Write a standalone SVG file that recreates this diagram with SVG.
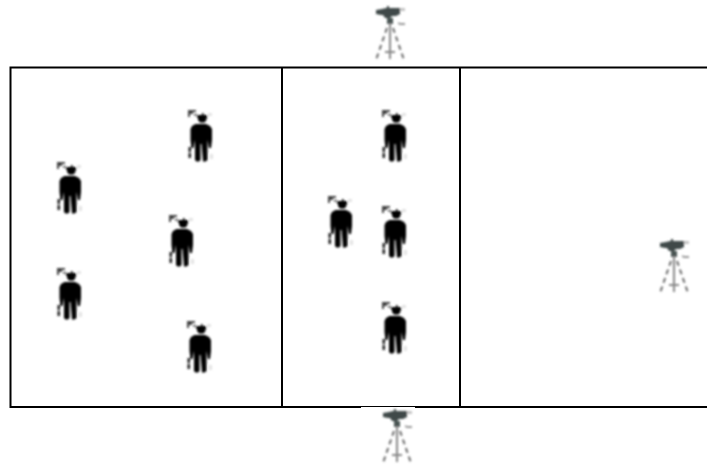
<svg xmlns="http://www.w3.org/2000/svg" width="707" height="468" viewBox="0 0 707 468">
<style>
.wall{stroke:#000;stroke-width:2;fill:none}
.thin{stroke:#000;stroke-width:1.200;fill:none}
.leg{stroke:#666;stroke-width:2;fill:none;stroke-dasharray:5 4}
.mast{stroke:#888;stroke-width:2;fill:none}
</style>
<defs>
<filter id="soft" x="-20%" y="-20%" width="140%" height="140%"><feGaussianBlur stdDeviation="0.8"/></filter>
<g id="person">
<rect x="0" y="0" width="25" height="53" fill="#fff"/>
<g filter="url(#soft)">
<path d="M0 0h8v2H5v2H2v3H0zM6 4h3v1.500H6z" fill="#444"/>
<path d="M14 3h1.500v2h3l1.500 1.500-1.500 1.500v2l-2 2.500h-4.500L10 10V8L8.500 6.500 10 5h4z" fill="#000"/>
<path d="M7.500 14h10.500l4 2 2 3v11l-1 8h-2l-1.500-8V50l-2 1.500h-2.500L13.500 34h-1v16l-1.500 1.500H8.500L7 50V30l-1.500 8H3.500l-1-8V19l1.500-3z" fill="#000"/>
<path d="M0.500 37h2.500v5H0.500zM0.500 43h2.500v5H0.500z" fill="#222"/>
<path d="M20 3h4v3h-4zM22 44h3v5h-3z" fill="#e4e4e4"/>
</g>
</g>
<g id="camera" filter="url(#soft)">
<path d="M2 4l6-1 4-1h1V0h2v2l8 0h3v6l-4 2h-4l-2 2h-5l-2-3H7l-5-1z" fill="#3f4a48"/>
<path d="M26 2h5v3h-5z" fill="#c4c4c4"/>
<path d="M13 12h6v6h-6z" fill="#4a5553"/>
<path d="M24 16l2 1h5v2h-5l-2-1z" fill="#999"/>
<path class="mast" d="M16 17V53"/>
<path class="mast" d="M11 46H21"/>
<path class="leg" d="M13 22L2 54"/>
<path class="leg" d="M19 22L30 54"/>
</g>
</defs>
<rect width="707" height="468" fill="#fff"/>
<g id="connectors">
<path class="wall" d="M707 67.500H10.500V407H361M415 407H707"/>
<path class="thin" d="M361 406.500H415"/>
<path class="wall" d="M282 68V407M460 68V407"/>
</g>
<g id="camera-top"><use href="#camera" x="374" y="6"/></g>
<g id="camera-right"><use href="#camera" x="658" y="239"/></g>
<g id="camera-bottom"><use href="#camera" x="381" y="409"/></g>
<g id="person-1"><use href="#person" x="57" y="162"/></g>
<g id="person-2"><use href="#person" x="57" y="268"/></g>
<g id="person-3"><use href="#person" x="188" y="110"/></g>
<g id="person-4"><use href="#person" x="169" y="215"/></g>
<g id="person-5"><use href="#person" x="187" y="321"/></g>
<g id="person-6"><use href="#person" x="328" y="196"/></g>
<g id="person-7"><use href="#person" x="382" y="110"/></g>
<g id="person-8"><use href="#person" x="382" y="206"/></g>
<g id="person-9"><use href="#person" x="382" y="302"/></g>
</svg>
